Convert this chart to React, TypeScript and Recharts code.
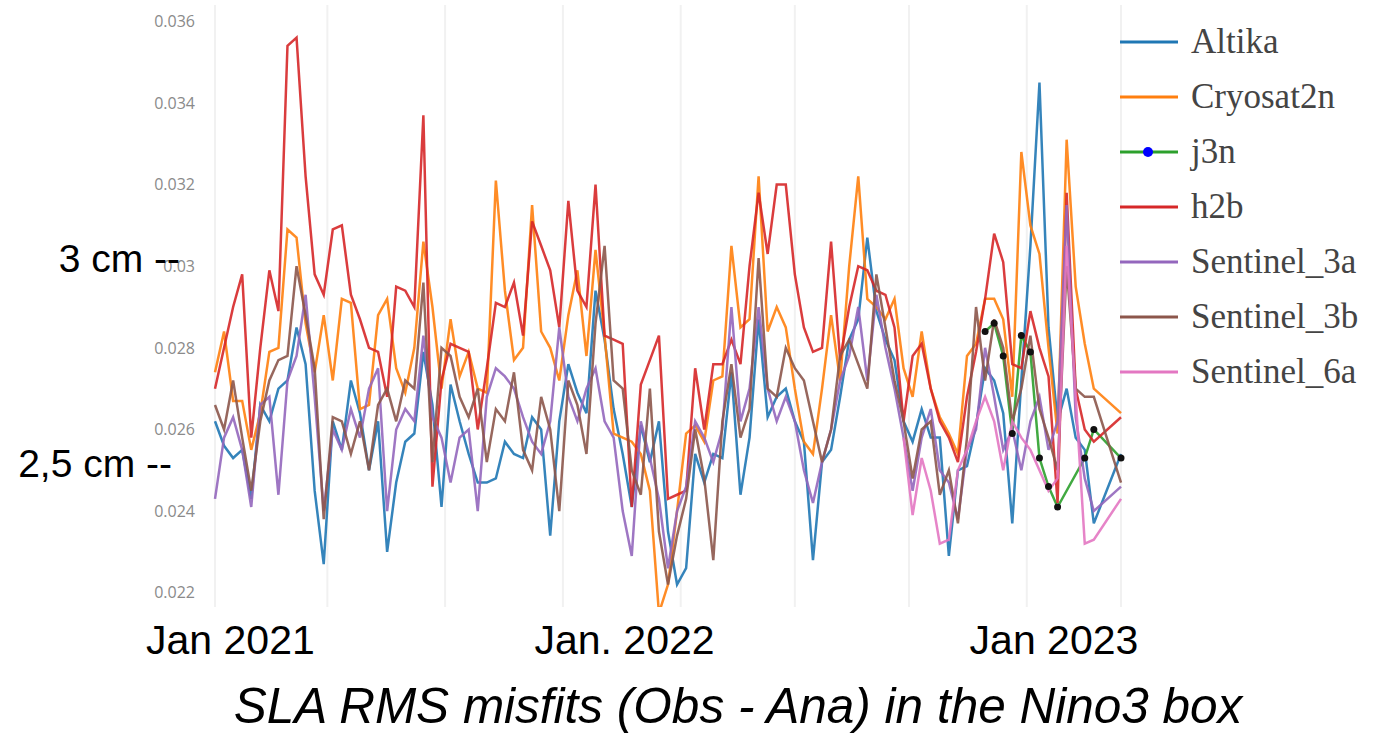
import { LineChart, Line, XAxis, YAxis, CartesianGrid, Legend, ReferenceLine } from "recharts";

// Weekly SLA RMS misfits (m), week 0 = first week of Jan 2021.
const WEEK_COUNT = 101;

const ALTIKA = [
  0.0262, 0.0256, 0.0253, 0.0255, 0.0243, 0.0266, 0.0262, 0.027, 0.0272, 0.0285,
  0.0276, 0.0245, 0.0227, 0.0262, 0.0255, 0.0272, 0.0264, 0.025, 0.0262, 0.023,
  0.0247, 0.0257, 0.0259, 0.0279, 0.0266, 0.0241, 0.0271, 0.0262, 0.0254, 0.0247,
  0.0247, 0.0248, 0.0257, 0.0254, 0.0253, 0.0263, 0.026, 0.0234, 0.0262, 0.0276,
  0.0269, 0.0264, 0.0294, 0.0282, 0.0265, 0.0254, 0.0241, 0.0261, 0.0252, 0.0262,
  0.0235, 0.0222, 0.0226, 0.0254, 0.0247, 0.0254, 0.0253, 0.0274, 0.0244, 0.0258,
  0.0287, 0.0263, 0.0268, 0.027, 0.0262, 0.0257, 0.0228, 0.0252, 0.0255, 0.0268,
  0.0282, 0.0287, 0.0307, 0.0289, 0.0282, 0.0277, 0.0262, 0.0257, 0.0265, 0.0258,
  0.0258, 0.0229, 0.025, 0.0251, 0.0261, 0.0275, 0.0272, 0.0264, 0.0237, 0.0272,
  0.0305, 0.0345, 0.0285, 0.0262, 0.027, 0.0258, 0.0255, 0.0237, null, null, 0.0254,
];

const CRYOSAT2N = [
  0.0274, 0.0284, 0.0267, 0.0267, 0.0255, 0.0264, 0.0279, 0.028, 0.0309, 0.0307,
  0.0286, 0.0274, 0.0288, 0.0272, 0.0292, 0.0291, 0.0265, 0.0266, 0.0288, 0.0292,
  0.0275, 0.0269, 0.028, 0.0306, 0.029, 0.027, 0.0287, 0.0273, 0.0279, 0.027,
  0.0269, 0.0321, 0.0294, 0.0277, 0.028, 0.0315, 0.0284, 0.028, 0.0272, 0.0288,
  0.0299, 0.0278, 0.0304, 0.0283, 0.0259, 0.0258, 0.0257, 0.0254, 0.0245, 0.0215,
  0.0222, 0.024, 0.0259, 0.0261, 0.0257, 0.0272, 0.0273, 0.0305, 0.0285, 0.0287,
  0.0322, 0.0284, 0.029, 0.0285, 0.027, 0.0257, 0.0254, 0.027, 0.0288, 0.0272,
  0.03, 0.0322, 0.0292, 0.029, 0.0287, 0.0292, 0.0275, 0.0268, 0.0284, 0.027,
  0.0263, 0.0259, 0.0254, 0.0278, 0.0281, 0.0292, 0.0292, 0.0287, 0.0268, 0.0328,
  0.031, 0.0303, 0.028, 0.0259, 0.0331, 0.0295, 0.0281, 0.027, null, null, 0.0264,
];

const H2B = [
  0.027, 0.028, 0.029, 0.0298, 0.0258, 0.028, 0.0299, 0.0289, 0.0354, 0.0356,
  0.0322, 0.0298, 0.0293, 0.0309, 0.031, 0.0293, 0.0287, 0.028, 0.0279, 0.0268,
  0.0295, 0.0294, 0.029, 0.0337, 0.0246, 0.0272, 0.0281, 0.028, 0.0279, 0.026,
  0.0275, 0.0291, 0.029, 0.0296, 0.0283, 0.0311, 0.0305, 0.0299, 0.0285, 0.0316,
  0.0294, 0.029, 0.032, 0.0283, 0.0282, 0.0281, 0.0241, 0.0271, 0.0277, 0.0283,
  0.0243, 0.0244, 0.0245, 0.0275, 0.026, 0.0276, 0.0276, 0.0282, 0.0276, 0.03,
  0.0318, 0.0303, 0.032, 0.032, 0.0298, 0.0285, 0.0279, 0.028, 0.0306, 0.0277,
  0.029, 0.03, 0.0299, 0.0294, 0.0293, 0.0285, 0.0262, 0.0278, 0.0281, 0.027,
  0.0262, 0.0258, 0.0252, 0.0268, 0.0279, 0.0292, 0.0308, 0.0301, 0.0276, 0.0275,
  0.0289, 0.028, 0.0273, 0.0242, 0.0318, 0.027, 0.026, 0.0257, null, null, 0.0263,
];

const SENTINEL_3A = [
  0.0243, 0.0258, 0.0263, 0.0255, 0.0241, 0.0266, 0.0268, 0.0244, 0.0272, 0.0278,
  0.0293, 0.0268, 0.024, 0.026, 0.0255, 0.0265, 0.0258, 0.027, 0.0275, 0.024,
  0.026, 0.0265, 0.0262, 0.0283, 0.0263, 0.0258, 0.0247, 0.0258, 0.026, 0.024,
  0.0268, 0.0275, 0.0273, 0.027, 0.0263, 0.0257, 0.0254, 0.0262, 0.0285, 0.0268,
  0.0262, 0.027, 0.0275, 0.0262, 0.0258, 0.024, 0.0229, 0.0262, 0.0253, 0.0243,
  0.0226, 0.024, 0.0246, 0.0262, 0.0258, 0.0252, 0.026, 0.029, 0.0262, 0.027,
  0.029, 0.027, 0.0262, 0.0268, 0.0262, 0.025, 0.0242, 0.0252, 0.026, 0.0272,
  0.0278, 0.029, 0.0272, 0.0293, 0.028, 0.027, 0.0258, 0.0245, 0.0258, 0.0265,
  0.025, 0.0247, 0.0238, 0.0255, 0.026, 0.028, 0.0268, 0.0255, 0.026, 0.025,
  0.0262, 0.0268, 0.0255, 0.0262, 0.0315, 0.0263, 0.0248, 0.024, null, null, 0.0246,
];

const SENTINEL_3B = [
  0.0266, 0.026, 0.0272, 0.0258, 0.0245, 0.0262, 0.0272, 0.0277, 0.0278, 0.03,
  0.0288, 0.0275, 0.0238, 0.0263, 0.0262, 0.0254, 0.0262, 0.025, 0.0266, 0.027,
  0.0262, 0.0272, 0.027, 0.0296, 0.0252, 0.028, 0.0278, 0.0268, 0.0263, 0.027,
  0.0252, 0.0265, 0.0262, 0.0274, 0.0255, 0.025, 0.0268, 0.026, 0.024, 0.0272,
  0.0266, 0.0254, 0.0286, 0.0305, 0.0272, 0.027, 0.025, 0.0244, 0.027, 0.0235,
  0.0222, 0.0234, 0.0243, 0.026, 0.0248, 0.0228, 0.0262, 0.0276, 0.0258, 0.0265,
  0.0302, 0.027, 0.0268, 0.028, 0.0275, 0.0272, 0.0262, 0.0252, 0.026, 0.0278,
  0.0282, 0.0276, 0.027, 0.0298, 0.0285, 0.0272, 0.0262, 0.0248, 0.026, 0.0262,
  0.0244, 0.025, 0.0237, 0.0258, 0.029, 0.0272, 0.0287, 0.028, 0.0262, 0.027,
  0.0283, 0.0265, 0.0258, 0.025, 0.03, 0.027, 0.0268, 0.0268, null, null, 0.0247,
];

// Series that only start late in the record
const J3N_START = 85;
const J3N = [
  0.0284, 0.0286, 0.0278, 0.0259, 0.0283, 0.0279, 0.0253, 0.0246, 0.0241, null,
  null, 0.0253, 0.026, null, null, 0.0253,
];
const SENTINEL_6A_START = 76;
const SENTINEL_6A = [
  0.0258, 0.0239, 0.0253, 0.0245, 0.0232, 0.0233, 0.025, 0.0255, 0.0262, 0.0268,
  0.0262, 0.025, 0.0262, 0.0258, 0.0255, 0.025, 0.0245, 0.0248, 0.0305, 0.0268,
  0.0232, 0.0233, null, null, 0.0243,
];

const Y_TICKS = [0.022, 0.024, 0.026, 0.028, 0.03, 0.032, 0.034, 0.036];
const GRID_WEEKS = [12.4, 25.4, 38.4, 51.4, 64, 76.6, 89.6];
const LABEL_WEEKS = [1.7, 45.2, 92.6];
const LABEL_TEXT = ["Jan 2021", "Jan. 2022", "Jan 2023"];
const CAPTION = "SLA RMS misfits (Obs - Ana) in the Nino3 box";

const SERIES = [
  { key: "Altika", color: "#1f77b4" },
  { key: "Cryosat2n", color: "#ff7f0e" },
  { key: "j3n", color: "#2ca02c" },
  { key: "h2b", color: "#d62728" },
  { key: "Sentinel_3a", color: "#9467bd" },
  { key: "Sentinel_3b", color: "#8c564b" },
  { key: "Sentinel_6a", color: "#e377c2" },
];

const data = Array.from({ length: WEEK_COUNT }, (_, i) => ({
  week: i,
  Altika: ALTIKA[i],
  Cryosat2n: CRYOSAT2N[i],
  j3n: i >= J3N_START ? J3N[i - J3N_START] : null,
  h2b: H2B[i],
  Sentinel_3a: SENTINEL_3A[i],
  Sentinel_3b: SENTINEL_3B[i],
  Sentinel_6a: i >= SENTINEL_6A_START ? SENTINEL_6A[i - SENTINEL_6A_START] : null,
}));

const SANS = '"Liberation Sans", Arial, sans-serif';

function LegendBox() {
  return (
    <div style={{ fontFamily: '"Liberation Serif", "Times New Roman", serif' }}>
      {SERIES.map((s) => (
        <div key={s.key} style={{ display: "flex", alignItems: "center", height: 55 }}>
          <svg width={60} height={14} style={{ flex: "none" }}>
            <line x1={0} x2={58} y1={7} y2={7} stroke={s.color} strokeWidth={3} />
            {s.key === "j3n" && <circle cx={28} cy={7} r={5} fill="#0000ff" />}
          </svg>
          <span style={{ marginLeft: 11, fontSize: 35, lineHeight: 1, color: "#444", whiteSpace: "nowrap" }}>
            {s.key}
          </span>
        </div>
      ))}
    </div>
  );
}

function CaptionText(props: any) {
  const vb = props.viewBox || { x: 0, y: 0, width: 0, height: 0 };
  return (
    <text
      x={vb.x + vb.width / 2 + 70}
      y={vb.y + vb.height - 11}
      textAnchor="middle"
      fontSize={49.5}
      fontStyle="italic"
      fontFamily={SANS}
      fill="#000"
    >
      {CAPTION}
    </text>
  );
}

export default function App() {
  return (
    <div style={{ position: "absolute", left: 0, top: 0, background: "#fff" }}>
      <LineChart width={1393} height={734} data={data} margin={{ top: 5, right: 272, bottom: 0, left: 155 }}>
        <CartesianGrid horizontal={false} stroke="#f1f1f1" strokeWidth={2} />
        <XAxis
          xAxisId="lbl"
          dataKey="week"
          type="number"
          domain={[0, 100]}
          ticks={LABEL_WEEKS}
          interval={0}
          tickFormatter={(v: number) => LABEL_TEXT[LABEL_WEEKS.indexOf(v)] ?? ""}
          axisLine={false}
          tickLine={false}
          tickMargin={12}
          height={127}
          tick={{ fontSize: 41, fill: "#000", fontFamily: SANS }}
          label={CaptionText}
        />
        <XAxis dataKey="week" type="number" domain={[0, 100]} ticks={GRID_WEEKS} height={0} hide />
        <YAxis
          domain={[0.02165, 0.0364]}
          allowDataOverflow
          ticks={Y_TICKS}
          tickFormatter={(v: number) => String(+v.toFixed(3))}
          axisLine={false}
          tickLine={false}
          tickMargin={14}
          width={60}
          tick={{ fontSize: 16, fill: "#8a8a8a", fontFamily: '"Open Sans", sans-serif' }}
        />
        <ReferenceLine
          y={0.0302}
          stroke="none"
          label={{ value: "3 cm --", position: "left", offset: 35, fontSize: 39, fill: "#000", fontFamily: SANS }}
        />
        <ReferenceLine
          y={0.02518}
          stroke="none"
          label={{ value: "2,5 cm --", position: "left", offset: 43, fontSize: 39, fill: "#000", fontFamily: SANS }}
        />
        <Legend
          layout="vertical"
          align="center"
          verticalAlign="middle"
          wrapperStyle={{ left: 1120, top: 14, width: 270 }}
          content={() => <LegendBox />}
        />
        {SERIES.map((s) => (
          <Line
            key={s.key}
            dataKey={s.key}
            name={s.key}
            stroke={s.color}
            strokeWidth={2.5}
            strokeOpacity={0.9}
            connectNulls
            dot={s.key === "j3n" ? { r: 3.5, fill: "#111", stroke: "#111", strokeWidth: 0 } : false}
            activeDot={false}
            isAnimationActive={false}
          />
        ))}
      </LineChart>
    </div>
  );
}
